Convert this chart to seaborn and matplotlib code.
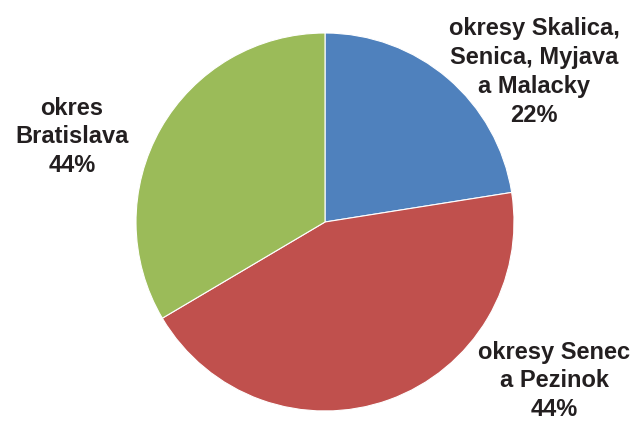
import matplotlib
matplotlib.use('Agg')
import matplotlib.pyplot as plt
import seaborn as sns

# Data
regions = ['okresy Skalica,\nSenica, Myjava\na Malacky', 'okresy Senec\na Pezinok', 'okres\nBratislava']
shares = [22.5, 44, 33.5]
label_pcts = ['22%', '44%', '44%']
colors = ['#4F81BD', '#C0504D', '#9BBB59']

sns.set_theme(style='white')
plt.rcParams['font.family'] = ['Liberation Sans', 'DejaVu Sans']

fig = plt.figure(figsize=(6.36, 4.21), dpi=100)
ax = fig.add_axes([0, 0, 1, 1])
ax.pie(shares, colors=sns.color_palette(colors), startangle=90, counterclock=False,
       radius=1, wedgeprops=dict(edgecolor='white', linewidth=0.8))

# label positions (data coords)
label_pos = [(1.106, 0.794), (1.212, -0.841), (-1.339, 0.450)]
for name, pct, (x, y) in zip(regions, label_pcts, label_pos):
    ax.text(x, y, name + '\n' + pct, ha='center', va='center', fontsize=17,
            fontweight='bold', color='#231F20', linespacing=1.33)

ax.set_xlim(-1.7196, 1.6455)
ax.set_ylim(-1.0529, 1.1746)
ax.set_aspect('equal')
ax.axis('off')

fig.savefig('out.png', dpi=100)
plt.close()
